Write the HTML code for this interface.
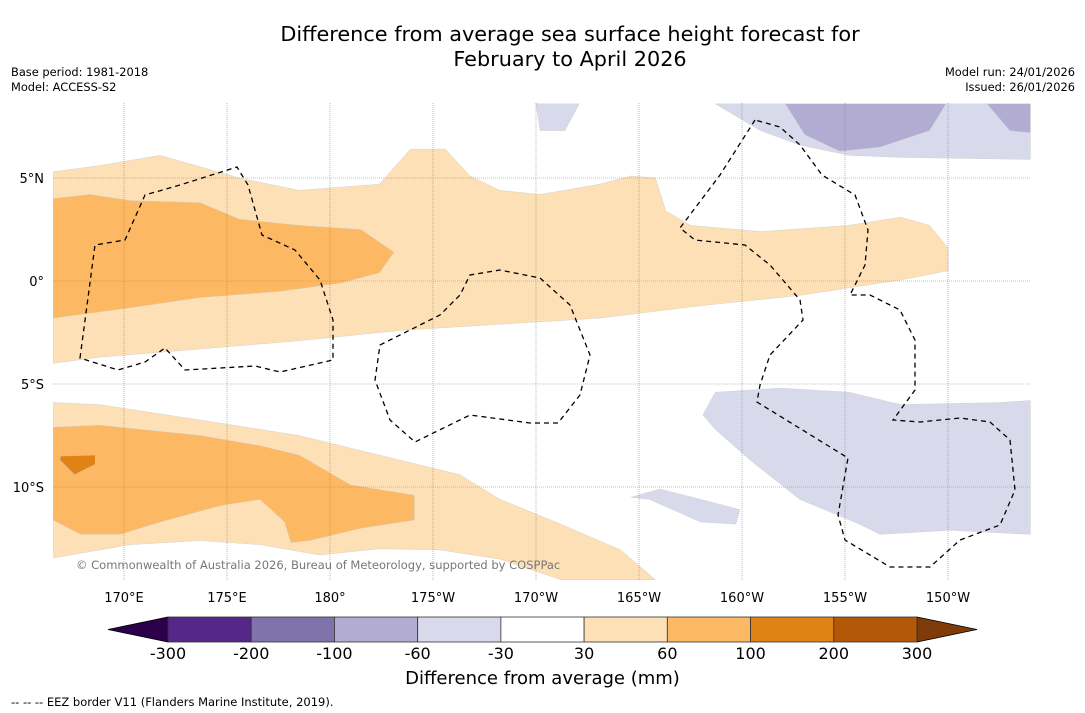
<!DOCTYPE html>
<html><head><meta charset="utf-8"><style>
body{margin:0;background:#fff;font-family:"DejaVu Sans","Liberation Sans",sans-serif;}
#wrap{position:relative;width:1085px;height:713px;overflow:hidden;background:#fff}
.t{position:absolute;white-space:nowrap;color:#000}
</style></head><body>
<div id="wrap">
<div class="t" style="left:0;width:1140px;text-align:center;top:22px;font-size:20.8px;line-height:25px">Difference from average sea surface height forecast for<br>February to April 2026</div>
<div class="t" style="left:11px;top:65px;font-size:11.4px;line-height:15px">Base period: 1981-2018<br>Model: ACCESS-S2</div>
<div class="t" style="right:10px;top:65px;font-size:11.4px;line-height:15px;text-align:right">Model run: 24/01/2026<br>Issued: 26/01/2026</div>
<svg id="map" width="1085" height="713" style="position:absolute;left:0;top:0"></svg>
<div class="t" style="left:76px;top:558px;font-size:11.5px;color:#777">© Commonwealth of Australia 2026, Bureau of Meteorology, supported by COSPPac</div>
<div class="t" style="left:0;width:1085px;text-align:center;top:668px;font-size:18px">Difference from average (mm)</div>
<div class="t" style="left:11px;top:695px;font-size:11.5px">--  --  -- EEZ border V11 (Flanders Marine Institute, 2019).</div>
</div>
<script>
const lonTicks=[170,175,180,185,190,195,200,205,210];
const lonLabels=["170°E","175°E","180°","175°W","170°W","165°W","160°W","155°W","150°W"];
const latTicks=[5,0,-5,-10];
const latLabels=["5°N","0°","5°S","10°S"];
const levels=[-300,-200,-100,-60,-30,30,60,100,200,300];
const levelColors=["#542788","#8073ac","#b2abd2","#d8daeb","#ffffff","#fee0b6","#fdb863","#e08214","#b35806"];
const extendColors=["#2d004b","#7f3b08"];
const regions=[
 {c:"#fee0b6",p:[[166.55,5.3],[168.8,5.6],[171.75,6.1],[175.6,5],[178.5,4.4],[182.4,4.7],[183.9,6.4],[185.6,6.4],[186.8,5.1],[188.25,4.4],[190.2,4.2],[193.1,4.7],[194.6,5.1],[195.8,5],[196.3,3.4],[197.5,2.7],[200.9,2.4],[205.2,2.7],[207.7,3.1],[209.1,2.7],[210,1.6],[210,0.5],[207.7,0.05],[202.8,-0.7],[198,-1.2],[193.1,-1.8],[188.25,-2.1],[183.4,-2.4],[178.5,-2.9],[173.7,-3.3],[168.8,-3.7],[166.55,-4]]},
 {c:"#fdb863",p:[[166.55,4],[168.35,4.2],[170.3,3.9],[173.7,3.8],[175.6,3],[178.5,2.7],[181.5,2.5],[183.1,1.4],[182.4,0.4],[180.5,-0.1],[177.6,-0.5],[173.7,-0.8],[170.3,-1.3],[166.55,-1.8]]},
 {c:"#fee0b6",p:[[166.55,-5.9],[168.8,-6],[173.7,-6.75],[178.5,-7.5],[183.4,-8.7],[186.3,-9.4],[188.25,-10.6],[191.2,-11.8],[194.1,-13.05],[195.8,-14.5],[191.2,-14.5],[188.25,-13.5],[185.3,-13.05],[182.4,-13],[179.5,-13.3],[176.6,-12.8],[173.7,-12.6],[170.3,-12.8],[166.55,-13.45]]},
 {c:"#fdb863",p:[[166.55,-7.1],[168.8,-7],[173.7,-7.5],[176.6,-8],[178.5,-8.45],[181,-9.9],[184.1,-10.4],[184.1,-11.6],[181.5,-12],[179,-12.6],[178.1,-12.7],[177.8,-11.7],[176.6,-10.6],[174.7,-10.9],[171.75,-11.7],[169.8,-12.3],[167.9,-12.3],[166.55,-11.6]]},
 {c:"#e08214",p:[[166.9,-8.5],[168.6,-8.45],[168.6,-8.9],[167.6,-9.4],[166.9,-8.7]]},
 {c:"#d8daeb",p:[[198.7,-5.4],[201.85,-5.2],[205.2,-5.4],[207.7,-6],[212.5,-5.9],[214,-5.8],[214,-12.3],[210.1,-12.1],[206.7,-12.3],[205.7,-11.8],[202.8,-10.6],[200.4,-8.7],[198.7,-7.2],[198.1,-6.5]]},
 {c:"#d8daeb",p:[[194.6,-10.5],[196,-10.1],[198,-10.6],[199.9,-11.1],[199.7,-11.8],[198,-11.7],[195.5,-10.6]]},
 {c:"#d8daeb",p:[[198.7,8.6],[200.9,7.3],[202.8,6.6],[205.2,6.1],[207.7,6],[214,5.9],[214,8.6]]},
 {c:"#d8daeb",p:[[190,8.6],[192.1,8.6],[191.4,7.3],[190.2,7.3]]},
 {c:"#b2abd2",p:[[202.1,8.6],[209.9,8.6],[209.1,7.3],[206.7,6.5],[204.75,6.3],[203.05,7.1]]},
 {c:"#b2abd2",p:[[211.9,8.6],[214,8.6],[214,7.2],[213,7.3]]}
];
const X0=53,X1=1031,Y0=103,Y1=580;
const xs=lon=>124+(lon-170)*20.6;
const ys=lat=>281-lat*20.6;
const NS="http://www.w3.org/2000/svg";
const svg=document.getElementById('map');
function mk(t,a){const e=document.createElementNS(NS,t);for(const k in a)e.setAttribute(k,a[k]);return e;}
const clip=mk('clipPath',{id:'cl'});clip.appendChild(mk('rect',{x:X0,y:Y0,width:X1-X0,height:Y1-Y0}));svg.appendChild(clip);
const g=mk('g',{'clip-path':'url(#cl)'});svg.appendChild(g);
regions.forEach((r,i)=>{
 const e=mk('polygon',{points:r.p.map(q=>xs(q[0])+','+ys(q[1])).join(' '),fill:r.c,stroke:'#ccc','stroke-width':0.4});
 
 
 g.appendChild(e);
});
lonTicks.forEach((l,i)=>{
 const e=mk('line',{x1:xs(l),x2:xs(l),y1:Y0,y2:Y1,stroke:'#888','stroke-width':0.6,'stroke-dasharray':'1,1'});
 
 
 g.appendChild(e);
 const t=mk('text',{x:xs(l),y:602,'text-anchor':'middle','font-size':13});t.textContent=lonLabels[i];
 
 
 svg.appendChild(t);
});
latTicks.forEach((l,i)=>{
 const e=mk('line',{x1:X0,x2:X1,y1:ys(l),y2:ys(l),stroke:'#888','stroke-width':0.6,'stroke-dasharray':'1,1'});
 
 
 g.appendChild(e);
 const t=mk('text',{x:44,y:ys(l)+5,'text-anchor':'end','font-size':13});t.textContent=latLabels[i];
 
 
 svg.appendChild(t);
});
const eez=[
 "M80,358 L95,245 L125,240 L145,195 L180,185 L237,167 L248,185 L262,235 L295,250 L320,280 L333,320 L333,360 L280,372 L255,366 L185,370 L165,348 L145,362 L118,370 Z",
 "M380,345 L440,315 L460,295 L470,275 L500,270 L540,278 L570,305 L590,355 L580,395 L558,423 L530,423 L470,415 L415,442 L390,420 L375,380 Z",
 "M755,120 L720,175 L680,228 L695,240 L745,245 L770,265 L800,300 L803,320 L770,355 L760,385 L757,402 L848,458 L838,515 L845,540 L890,567 L930,567 L960,540 L1000,525 L1015,490 L1010,440 L990,422 L960,418 L920,422 L893,420 L915,390 L915,340 L900,310 L870,295 L850,295 L865,265 L868,230 L855,195 L822,175 L800,145 L780,127 Z"
];
eez.forEach(d=>{const e=mk('path',{d:d,fill:'none',stroke:'#000','stroke-width':1.3,'stroke-dasharray':'5,4'});
 
 
 g.appendChild(e);});
const CB0=168,CB1=917,CT=617,CH=25,bw=(CB1-CB0)/levelColors.length;
const lt=mk('polygon',{points:`108,${CT+CH/2} ${CB0},${CT} ${CB0},${CT+CH}`,fill:extendColors[0],stroke:'#000','stroke-width':0.8});
svg.appendChild(lt);
const rt=mk('polygon',{points:`977,${CT+CH/2} ${CB1},${CT} ${CB1},${CT+CH}`,fill:extendColors[1],stroke:'#000','stroke-width':0.8});
svg.appendChild(rt);
levelColors.forEach((c,i)=>{
 const r=mk('rect',{x:CB0+i*bw,y:CT,width:bw,height:CH,fill:c,stroke:'#333','stroke-width':0.8});
 
 
 svg.appendChild(r);
});
levels.forEach((v,i)=>{
 const t=mk('text',{x:CB0+i*bw,y:659,'text-anchor':'middle','font-size':16});t.textContent=v;
 
 
 svg.appendChild(t);
});
</script>
</body></html>
